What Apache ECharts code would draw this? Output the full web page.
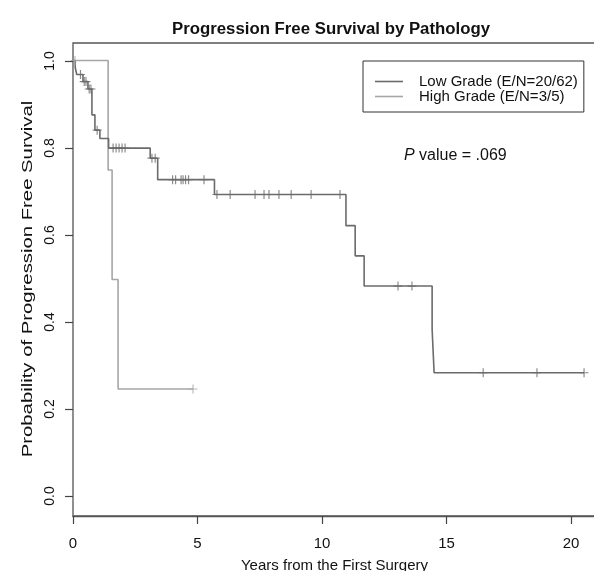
<!DOCTYPE html>
<html>
<head>
<meta charset="utf-8">
<script src="https://cdn.jsdelivr.net/npm/echarts@6/dist/echarts.min.js"></script>
<style>html,body{margin:0;padding:0;background:#fff}#c{width:594px;height:571px}</style>
</head>
<body>
<div id="c"></div>
<script>
// ---- data ----
var lowName = 'Low Grade (E/N=20/62)';
var highName = 'High Grade (E/N=3/5)';
var lowTimes = [0, 0.09, 0.15, 0.4, 0.6, 0.76, 0.88, 1.08, 1.43, 3.1, 3.4, 5.68, 10.96, 11.33, 11.69, 14.42, 14.5, 20.52];
var lowSurv  = [1.0, 0.984, 0.968, 0.952, 0.935, 0.876, 0.841, 0.822, 0.8, 0.777, 0.728, 0.694, 0.623, 0.554, 0.485, 0.386, 0.287, 0.287];
var lowCensor = [0.3, 0.45, 0.52, 0.65, 0.72, 0.97, 1.61, 1.73, 1.85, 1.97, 2.09, 3.17, 3.3, 4.0, 4.12, 4.34, 4.42, 4.52, 4.64, 5.26, 5.78, 6.31, 7.31, 7.67, 7.87, 8.27, 8.76, 9.56, 10.72, 13.05, 13.61, 16.47, 18.63, 20.52];
var highTimes = [0, 1.41, 1.57, 1.81, 4.82];
var highSurv  = [1.0, 0.75, 0.5, 0.25, 0.25];
var highCensor = [0.08, 4.82];
var xTicks = [0, 5, 10, 15, 20];
var yTicks = [0.0, 0.2, 0.4, 0.6, 0.8, 1.0];
var pText = '.069';
var titleText = 'Progression Free Survival by Pathology';
var xTitle = 'Years from the First Surgery';
var yTitle = 'Probability of Progression Free Survival';

function pairs(t, s) { return t.map(function (v, i) { return [v, s[i]]; }); }
function survAt(t, times, surv) {
  var s = surv[0];
  for (var i = 0; i < times.length; i++) { if (times[i] <= t) s = surv[i]; }
  return s;
}
function censorPts(c, times, surv) { return c.map(function (t) { return [t, survAt(t, times, surv)]; }); }

var lowColor = '#6b6b6b', highColor = '#a6a6a6';
var FONT = 'Liberation Sans, Arial, Helvetica, sans-serif';
var plus = 'path://M4.35,0h1.3v10h-1.3zM0,4.35h10v1.3h-10z';

var chart = echarts.init(document.getElementById('c'), null, {renderer: 'canvas'});
chart.setOption({
  animation: false,
  backgroundColor: '#fff',
  textStyle: {fontFamily: FONT},
  title: {
    text: titleText,
    left: 326, top: 16, textAlign: 'center',
    textStyle: {fontFamily: FONT, fontSize: 16.8, fontWeight: 'bold', color: '#111'}
  },
  legend: {
    data: [lowName, highName],
    icon: 'path://M0,0H28V1.6H0Z',
    orient: 'vertical', left: 363, top: 61,
    padding: [13, 6, 8, 12],
    itemWidth: 28, itemHeight: 17, itemGap: 0,
    borderColor: '#333', borderWidth: 1,
    textStyle: {fontFamily: FONT, fontSize: 15, color: '#111', padding: [0, 0, 0, 11]}
  },
  grid: [
    {left: 73, top: 43, width: 523, bottom: 55, show: true, borderColor: '#555', borderWidth: 1.3,
     backgroundColor: 'transparent', outerBoundsMode: 'none', containLabel: false},
    {left: 73, top: 61, width: 400, height: 435, show: false, outerBoundsMode: 'none', containLabel: false}
  ],
  xAxis: [
    {gridIndex: 0, type: 'value', min: 0, max: 21, interval: 5,
     name: xTitle, nameLocation: 'middle', nameGap: 42,
     nameTextStyle: {fontFamily: FONT, fontSize: 15, color: '#111'},
     axisLine: {show: true, onZero: false, lineStyle: {color: '#555', width: 1.3}},
     axisTick: {show: true, length: 8, lineStyle: {color: '#444', width: 1.2}},
     axisLabel: {margin: 20, fontFamily: FONT, fontSize: 15, color: '#111',
       formatter: function (v) { return xTicks.indexOf(v) >= 0 ? String(v) : ''; }},
     splitLine: {show: false}},
    {gridIndex: 1, type: 'value', min: 0, max: 21, show: false}
  ],
  yAxis: [
    {gridIndex: 0, type: 'value', min: -0.04, max: 1.04, show: false},
    {gridIndex: 1, type: 'value', min: 0, max: 1, interval: 0.2,
     axisLine: {show: false},
     axisTick: {show: true, length: 8, lineStyle: {color: '#444', width: 1.2}},
     axisLabel: {rotate: 90, margin: 16, fontFamily: FONT, fontSize: 14, color: '#111',
       formatter: function (v) { return yTicks.indexOf(Math.round(v * 10) / 10) >= 0 ? v.toFixed(1) : ''; }},
     splitLine: {show: false}}
  ],
  series: [
    {name: lowName, type: 'line', step: 'end', symbol: 'none', xAxisIndex: 0, yAxisIndex: 0,
     data: pairs(lowTimes, lowSurv), lineStyle: {color: lowColor, width: 1.6}, itemStyle: {color: lowColor}, z: 3},
    {name: highName, type: 'line', step: 'end', symbol: 'none', xAxisIndex: 0, yAxisIndex: 0,
     data: pairs(highTimes, highSurv), lineStyle: {color: highColor, width: 1.6}, itemStyle: {color: highColor}, z: 2},
    {name: 'low-censor', type: 'scatter', xAxisIndex: 0, yAxisIndex: 0, symbol: plus, symbolSize: 9,
     data: censorPts(lowCensor, lowTimes, lowSurv), itemStyle: {color: lowColor}, z: 4},
    {name: 'high-censor', type: 'scatter', xAxisIndex: 0, yAxisIndex: 0, symbol: plus, symbolSize: 9,
     data: censorPts(highCensor, highTimes, highSurv), itemStyle: {color: highColor}, z: 4}
  ],
  graphic: [
    {type: 'text', left: 404, top: 148,
     style: {text: '{i|P} value = ' + pText, fontFamily: FONT, fontSize: 16, fill: '#111',
       rich: {i: {fontStyle: 'italic', fontFamily: FONT, fontSize: 16, fill: '#111'}}}},
    {type: 'text', x: 28, y: 279, rotation: Math.PI / 2, scaleX: 1.45,
     style: {text: yTitle, fontFamily: FONT, fontSize: 14, fill: '#111', align: 'center', verticalAlign: 'middle'}}
  ]
});
</script>
</body>
</html>
